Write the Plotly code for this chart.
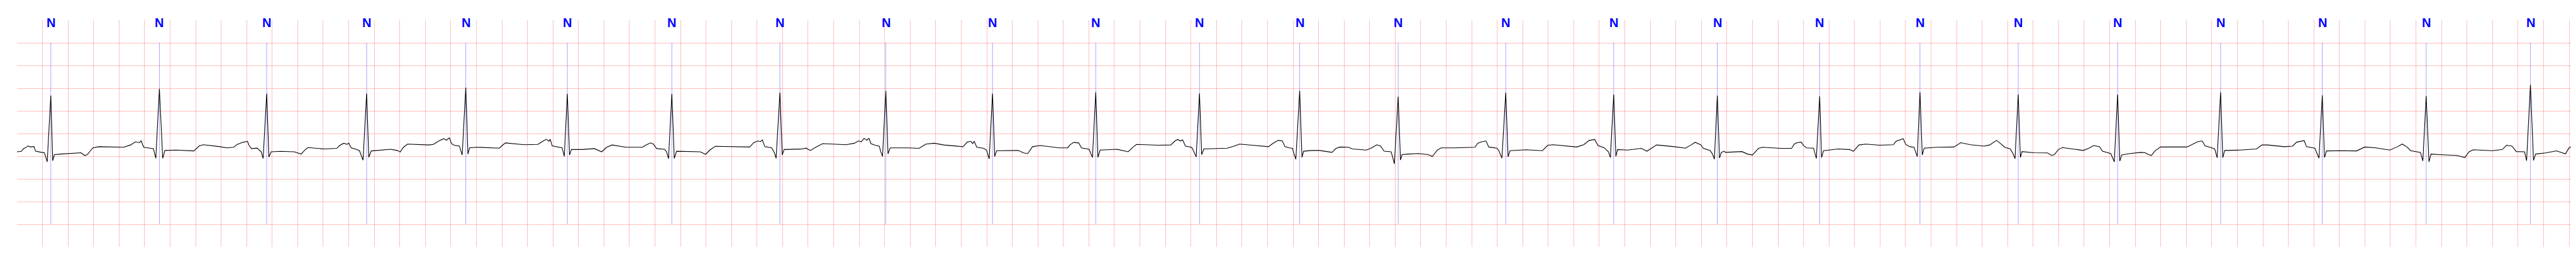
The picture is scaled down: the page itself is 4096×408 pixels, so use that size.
import plotly.graph_objects as go

# ECG trace (time in s, amplitude in mV)
ecg_t = [
    0.000, 0.034, 0.051, 0.077, 0.086, 0.107, 0.133, 0.146, 0.193, 0.215, 0.237, 0.265, 0.280, 0.293, 0.340,
    0.469, 0.502, 0.530, 0.551, 0.594, 0.642, 0.836, 0.890, 0.927, 0.961, 0.972, 0.993, 1.041, 1.069, 1.088,
    1.116, 1.142, 1.159, 1.246, 1.386, 1.429, 1.461, 1.591, 1.644, 1.698, 1.724, 1.767, 1.806, 1.819, 1.838,
    1.882, 1.914, 1.929, 1.957, 1.974, 1.992, 2.065, 2.173, 2.227, 2.255, 2.280, 2.410, 2.507, 2.528, 2.561,
    2.587, 2.600, 2.619, 2.658, 2.684, 2.712, 2.740, 2.757, 2.776, 2.927, 2.981, 3.003, 3.029, 3.061, 3.229,
    3.263, 3.306, 3.345, 3.366, 3.388, 3.405, 3.424, 3.467, 3.489, 3.517, 3.534, 3.547, 3.607, 3.780, 3.802,
    3.828, 3.974, 4.082, 4.121, 4.147, 4.168, 4.179, 4.194, 4.255, 4.272, 4.289, 4.313, 4.330, 4.345, 4.427,
    4.524, 4.582, 4.621, 4.664, 4.772, 4.901, 4.934, 4.966, 4.987, 5.013, 5.074, 5.091, 5.106, 5.132, 5.151,
    5.169, 5.268, 5.354, 5.397, 5.429, 5.473, 5.634, 5.742, 5.774, 5.807, 5.828, 5.841, 5.861, 5.915, 5.936,
    5.949, 5.979, 5.997, 6.012, 6.152, 6.184, 6.217, 6.260, 6.314, 6.497, 6.562, 6.594, 6.617, 6.638, 6.660,
    6.677, 6.692, 6.724, 6.757, 6.768, 6.783, 6.809, 6.826, 6.843, 6.983, 7.069, 7.123, 7.188, 7.263, 7.414,
    7.447, 7.475, 7.490, 7.501, 7.522, 7.576, 7.598, 7.619, 7.645, 7.662, 7.677, 7.846, 7.889, 7.921, 7.958,
    8.018, 8.169, 8.234, 8.251, 8.281, 8.320, 8.342, 8.402, 8.428, 8.454, 8.471, 8.488, 8.622, 8.708, 8.747,
    8.773, 8.945, 9.042, 9.075, 9.096, 9.118, 9.135, 9.157, 9.204, 9.215, 9.241, 9.267, 9.284, 9.301, 9.484,
    9.538, 9.581, 9.678, 9.808, 9.840, 9.883, 9.916, 9.937, 9.971, 9.996, 10.005, 10.022, 10.052, 10.070, 10.083,
    10.143, 10.208, 10.305, 10.337, 10.369, 10.434, 10.466, 10.574, 10.617, 10.656, 10.686, 10.714, 10.768, 10.779, 10.794,
    10.824, 10.842, 10.854, 10.898, 10.984, 11.059, 11.092, 11.131, 11.161, 11.264, 11.426, 11.447, 11.480, 11.512, 11.534,
    11.598, 11.613, 11.637, 11.667, 11.685, 11.700, 11.825, 11.954, 11.997, 12.040, 12.105, 12.224, 12.278, 12.321, 12.364,
    12.390, 12.439, 12.472, 12.487, 12.513, 12.530, 12.543, 12.623, 12.730, 12.773, 12.849, 12.989, 13.075, 13.119, 13.151,
    13.194, 13.216, 13.269, 13.287, 13.302, 13.325, 13.342, 13.357, 13.378, 13.389, 13.518, 13.562, 13.600, 13.622, 13.648,
    13.680, 13.820, 13.907, 13.928, 13.950, 13.982, 14.004, 14.025, 14.079, 14.090, 14.101, 14.127, 14.142, 14.157, 14.273,
    14.359, 14.392, 14.435, 14.489, 14.597, 14.704, 14.726, 14.758, 14.782, 14.801, 14.834, 14.866, 14.877, 14.892, 14.913,
    14.931, 14.946, 15.049, 15.179, 15.233, 15.308, 15.416, 15.459, 15.491, 15.513, 15.541, 15.578, 15.621, 15.642, 15.658,
    15.683, 15.700, 15.713, 15.804, 15.912, 15.944, 15.966, 15.998, 16.030, 16.127, 16.192, 16.235, 16.274, 16.321, 16.343,
    16.408, 16.436, 16.462, 16.479, 16.494, 16.559, 16.645, 16.678, 16.700, 16.726, 16.755, 16.798, 17.005, 17.038, 17.092,
    17.125, 17.147, 17.201, 17.223, 17.242, 17.269, 17.286, 17.301, 17.419, 17.550, 17.593, 17.637, 17.767, 17.833, 17.865,
    17.898, 17.924, 17.942, 18.007, 18.040, 18.066, 18.083, 18.099, 18.203, 18.334, 18.399, 18.486, 18.595, 18.650, 18.693,
    18.730, 18.758, 18.835, 18.854, 18.880, 18.902, 18.918, 18.987, 19.118, 19.183, 19.216, 19.249, 19.401, 19.477, 19.510,
    19.553, 19.586, 19.651, 19.667, 19.697, 19.721, 19.738, 19.815, 19.902, 19.945, 19.971, 20.000, 20.033, 20.063,
]
ecg_mv = [
    -0.403, -0.393, -0.332, -0.297, -0.272, -0.297, -0.287, -0.390, -0.415, -0.423, -0.624, 0.836, -0.599, -0.466, -0.453,
    -0.428, -0.423, -0.483, -0.466, -0.315, -0.290, -0.302, -0.252, -0.184, -0.201, -0.156, -0.302, -0.322, -0.332, -0.546,
    0.987, -0.546, -0.373, -0.365, -0.383, -0.272, -0.247, -0.290, -0.315, -0.302, -0.242, -0.196, -0.171, -0.264, -0.332,
    -0.322, -0.403, -0.549, 0.881, -0.516, -0.403, -0.393, -0.403, -0.453, -0.365, -0.310, -0.340, -0.327, -0.264, -0.214,
    -0.239, -0.209, -0.315, -0.347, -0.378, -0.587, 0.881, -0.524, -0.383, -0.347, -0.373, -0.408, -0.302, -0.232, -0.252,
    -0.239, -0.164, -0.113, -0.146, -0.096, -0.222, -0.257, -0.277, -0.473, 1.012, -0.453, -0.315, -0.302, -0.322, -0.264,
    -0.206, -0.247, -0.239, -0.171, -0.126, -0.171, -0.126, -0.272, -0.302, -0.315, -0.503, 0.876, -0.473, -0.352, -0.352,
    -0.332, -0.403, -0.302, -0.252, -0.302, -0.302, -0.247, -0.206, -0.232, -0.332, -0.347, -0.403, -0.554, 0.876, -0.549,
    -0.390, -0.398, -0.403, -0.458, -0.365, -0.282, -0.297, -0.297, -0.201, -0.164, -0.176, -0.138, -0.290, -0.315, -0.428,
    -0.546, 0.901, -0.473, -0.352, -0.340, -0.322, -0.373, -0.302, -0.222, -0.247, -0.214, -0.164, -0.181, -0.106, -0.146,
    -0.106, -0.222, -0.257, -0.277, -0.390, -0.503, 0.937, -0.448, -0.315, -0.315, -0.327, -0.232, -0.214, -0.252, -0.290,
    -0.189, -0.171, -0.222, -0.171, -0.302, -0.327, -0.365, -0.559, 0.881, -0.503, -0.378, -0.373, -0.428, -0.441, -0.290,
    -0.264, -0.315, -0.315, -0.252, -0.196, -0.206, -0.315, -0.347, -0.529, 0.911, -0.524, -0.365, -0.347, -0.403, -0.297,
    -0.239, -0.257, -0.252, -0.164, -0.131, -0.164, -0.138, -0.277, -0.302, -0.352, -0.516, 0.886, -0.466, -0.340, -0.322,
    -0.277, -0.232, -0.257, -0.290, -0.222, -0.151, -0.164, -0.290, -0.315, -0.327, -0.428, -0.566, 0.944, -0.524, -0.390,
    -0.373, -0.373, -0.415, -0.327, -0.297, -0.302, -0.340, -0.365, -0.315, -0.247, -0.277, -0.390, -0.403, -0.503, -0.667,
    0.811, -0.584, -0.466, -0.453, -0.441, -0.466, -0.503, -0.365, -0.315, -0.315, -0.302, -0.214, -0.181, -0.164, -0.297,
    -0.322, -0.378, -0.541, 0.901, -0.516, -0.378, -0.358, -0.378, -0.257, -0.247, -0.264, -0.297, -0.247, -0.151, -0.131,
    -0.264, -0.315, -0.403, -0.529, 0.861, -0.503, -0.352, -0.365, -0.327, -0.390, -0.252, -0.290, -0.322, -0.252, -0.194,
    -0.247, -0.327, -0.373, -0.453, -0.566, 0.836, -0.541, -0.415, -0.390, -0.415, -0.398, -0.453, -0.473, -0.403, -0.327,
    -0.302, -0.327, -0.327, -0.232, -0.201, -0.189, -0.272, -0.315, -0.322, -0.453, -0.549, 0.818, -0.529, -0.378, -0.340,
    -0.352, -0.390, -0.252, -0.232, -0.257, -0.247, -0.171, -0.138, -0.113, -0.239, -0.290, -0.302, -0.390, -0.508, 0.911,
    -0.473, -0.322, -0.302, -0.297, -0.201, -0.247, -0.277, -0.252, -0.189, -0.151, -0.214, -0.302, -0.340, -0.441, -0.554,
    0.861, -0.529, -0.398, -0.423, -0.428, -0.483, -0.466, -0.352, -0.310, -0.347, -0.373, -0.327, -0.264, -0.290, -0.390,
    -0.441, -0.624, 0.861, -0.609, -0.473, -0.441, -0.415, -0.423, -0.458, -0.483, -0.383, -0.297, -0.297, -0.252, -0.176,
    -0.164, -0.272, -0.315, -0.340, -0.534, 0.911, -0.534, -0.373, -0.365, -0.340, -0.252, -0.252, -0.290, -0.277, -0.189,
    -0.176, -0.156, -0.290, -0.322, -0.541, 0.843, -0.529, -0.383, -0.378, -0.383, -0.297, -0.315, -0.365, -0.297, -0.232,
    -0.297, -0.378, -0.415, -0.604, 0.826, -0.624, -0.453, -0.466, -0.483, -0.529, -0.403, -0.358, -0.378, -0.352, -0.257,
    -0.277, -0.398, -0.403, -0.599, 1.077, -0.592, -0.453, -0.428, -0.383, -0.428, -0.448, -0.315, -0.264, -0.232,
]

# Beat annotations (R-peak times, s) and labels
beat_t = [0.265, 1.116, 1.957, 2.740, 3.517, 4.313, 5.132, 5.979, 6.809, 7.645, 8.454, 9.267, 10.052,
          10.824, 11.667, 12.513, 13.325, 14.127, 14.913, 15.683, 16.462, 17.269, 18.066, 18.880, 19.697]
beat_label = ["N"] * len(beat_t)

marker_lo, marker_hi = -2.0, 2.0
x_range = [0.0, 20.064]
y_range = [-2.5, 2.5]

# vertical beat-marker lines
mx, my = [], []
for t in beat_t:
    mx += [t, t, None]
    my += [marker_lo, marker_hi, None]

fig = go.Figure()
fig.add_trace(go.Scatter(x=mx, y=my, mode="lines",
                         line=dict(color="rgba(0,0,255,0.5)", width=0.7),
                         hoverinfo="skip", showlegend=False))
fig.add_trace(go.Scatter(x=ecg_t, y=ecg_mv, mode="lines",
                         line=dict(color="black", width=1.1),
                         showlegend=False))

for t, lab in zip(beat_t, beat_label):
    fig.add_annotation(x=t, y=1, xref="x", yref="paper", text="<b>%s</b>" % lab,
                       showarrow=False, yanchor="top", xanchor="center", yshift=9,
                       font=dict(family="Liberation Sans, Arial, sans-serif", size=20, color="#0000ff"))

grid_col = "rgba(255,0,0,0.25)"
fig.update_xaxes(range=x_range, tick0=0, dtick=0.2, showgrid=True, gridcolor=grid_col, gridwidth=1.1,
                 showticklabels=False, ticks="", zeroline=False, showline=False)
fig.update_yaxes(range=y_range, tickvals=[-2.5 + 0.5 * i for i in range(10)], showgrid=True,
                 gridcolor=grid_col, gridwidth=1.1, showticklabels=False, ticks="", zeroline=False,
                 showline=False)
fig.update_layout(width=4096, height=408, margin=dict(l=19, r=6, t=24, b=24),
                  paper_bgcolor="white", plot_bgcolor="white")

fig.write_html("out.html")
